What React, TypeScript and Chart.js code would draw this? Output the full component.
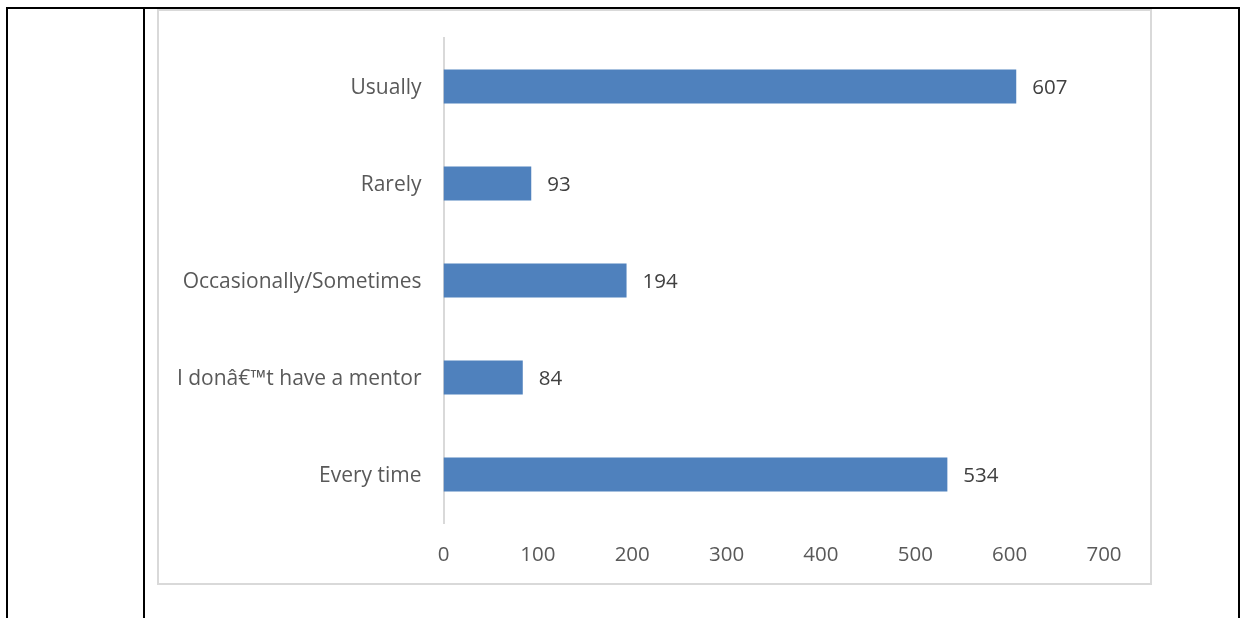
import React, { useEffect, useRef } from "react";
import { Chart, registerables } from "chart.js";

Chart.register(...registerables);

const categories: string[] = [
  "Usually",
  "Rarely",
  "Occasionally/Sometimes",
  "I donâ€™t have a mentor",
  "Every time",
];
const values: number[] = [607, 93, 194, 84, 534];
const xTicks: number[] = [0, 100, 200, 300, 400, 500, 600, 700];

const FONT = "'Open Sans', sans-serif";

const valueLabels = {
  id: "valueLabels",
  afterDatasetsDraw(chart: any) {
    const ctx = chart.ctx;
    const meta = chart.getDatasetMeta(0);
    ctx.save();
    ctx.font = `20.5px ${FONT}`;
    ctx.fillStyle = "#404040";
    ctx.textAlign = "left";
    ctx.textBaseline = "middle";
    meta.data.forEach((bar: any, i: number) => {
      ctx.fillText(String(values[i]), bar.x + 16, bar.y + 2);
    });
    ctx.restore();
  },
};

export default function App() {
  const ref = useRef<HTMLCanvasElement | null>(null);

  useEffect(() => {
    if (!ref.current) return;
    const chart = new Chart(ref.current, {
      type: "bar",
      data: {
        labels: categories,
        datasets: [
          {
            data: values,
            backgroundColor: "#4f81bd",
            borderWidth: 0,
            categoryPercentage: 1,
            barPercentage: 0.35,
          },
        ],
      },
      options: {
        indexAxis: "y",
        animation: false,
        responsive: false,
        maintainAspectRatio: false,
        layout: { padding: { left: 0, right: 46, top: 27, bottom: 0 } },
        plugins: {
          legend: { display: false },
          tooltip: { enabled: false },
        },
        scales: {
          x: {
            min: 0,
            max: 700,
            afterBuildTicks: (scale: any) => {
              scale.ticks = xTicks.map((v) => ({ value: v }));
            },
            afterFit: (scale: any) => {
              scale.height = 60;
              scale.paddingLeft = 0;
              scale.paddingRight = 0;
            },
            grid: { display: false, drawTicks: false },
            border: { display: false },
            ticks: {
              padding: 20,
              color: "#595959",
              font: { family: FONT, size: 20.5 },
            },
          },
          y: {
            afterFit: (scale: any) => {
              scale.width = 284.5;
              scale.paddingTop = 0;
              scale.paddingBottom = 0;
            },
            grid: { display: false, drawTicks: false },
            border: { display: true, color: "#d9d9d9", width: 2 },
            ticks: {
              padding: 22,
              labelOffset: 2,
              color: "#595959",
              font: { family: FONT, size: 21 },
            },
          },
        },
      },
      plugins: [valueLabels],
    });
    return () => chart.destroy();
  }, []);

  return (
    <div
      style={{
        position: "absolute",
        left: 0,
        top: 0,
        width: 1240,
        height: 618,
        background: "#ffffff",
        overflow: "hidden",
      }}
    >
      <div style={{ position: "absolute", left: 6, top: 7, width: 1234, height: 2, background: "#000" }} />
      <div style={{ position: "absolute", left: 6, top: 7, width: 2, height: 611, background: "#000" }} />
      <div style={{ position: "absolute", left: 143, top: 7, width: 2, height: 611, background: "#000" }} />
      <div style={{ position: "absolute", left: 1238, top: 7, width: 2, height: 611, background: "#000" }} />
      <div
        style={{
          position: "absolute",
          left: 157,
          top: 9,
          width: 991,
          height: 572,
          border: "2px solid #d9d9d9",
        }}
      >
        <canvas ref={ref} width={991} height={572} style={{ display: "block" }} />
      </div>
    </div>
  );
}
